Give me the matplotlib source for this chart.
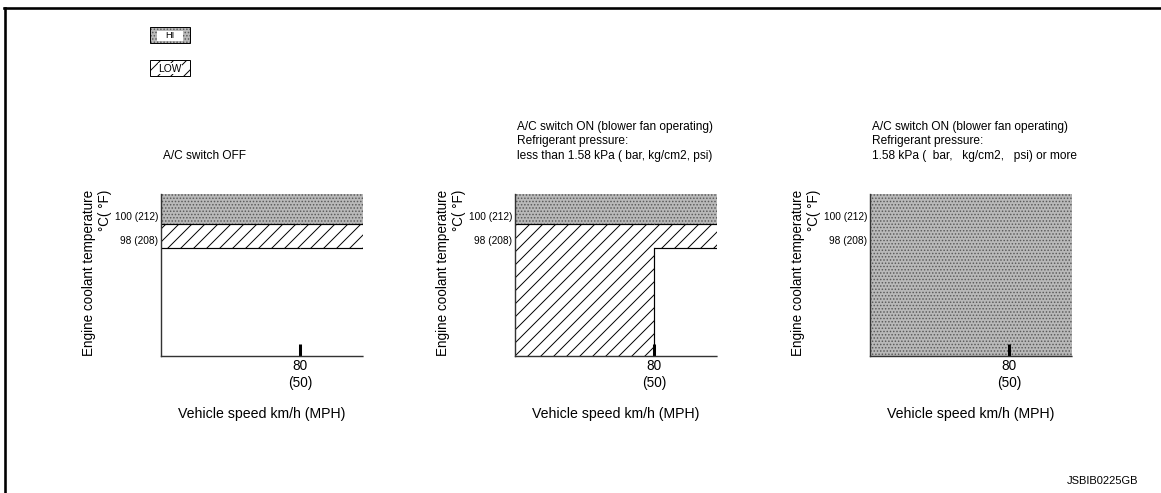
import matplotlib
matplotlib.use("Agg")
import matplotlib.pyplot as plt
from matplotlib.patches import Rectangle
from matplotlib.lines import Line2D
from matplotlib.transforms import offset_copy

plt.rcParams["font.family"] = ["Liberation Sans", "DejaVu Sans"]
plt.rcParams["hatch.linewidth"] = 0.9

# ---------------- data ----------------
speed_kmh = [80]
speed_mph = [50]
temp_c = [100, 98]
temp_f = [212, 208]

panel_titles = [
    "A/C switch OFF",
    "A/C switch ON (blower fan operating)\nRefrigerant pressure:\nless than 1.58 kPa ( bar, kg/cm2, psi)",
    "A/C switch ON (blower fan operating)\nRefrigerant pressure:\n1.58 kPa (  bar,   kg/cm2,   psi) or more",
]

# Lower edge (°C) of each fan-speed zone, below / above 80 km/h.
# None means the zone reaches down to the bottom of the scale.
hi_floor_below = [100, 100, None]
hi_floor_above = [100, 100, None]
low_floor_below = [98, None, None]
low_floor_above = [98, 98, None]

legend_labels = ["HI", "LOW"]
xlabel = "Vehicle speed km/h (MPH)"
ylabel = "Engine coolant temperature\n°C( °F)"
doc_code = "JSBIB0225GB"

# ---------------- layout / style ----------------
DPI = 78
W, H = 1161, 493
X_MAX = 116
Y_MIN, Y_MAX = 89, 102.5
HI_FACE = "#b9b9b9"
HI_DOT = "#5a5a5a"

fig = plt.figure(figsize=(W / DPI, H / DPI), dpi=DPI)
fig.patch.set_facecolor("white")

# page frame (top and left edges)
fig.add_artist(Line2D([4 / W, 1.0], [1 - 8 / H, 1 - 8 / H], color="black", lw=2.4,
                      transform=fig.transFigure))
fig.add_artist(Line2D([5 / W, 5 / W], [0, 1 - 8 / H], color="black", lw=2.4,
                      transform=fig.transFigure))

panel_left_px = [161, 515, 870]
ax_w_px, ax_top_px, ax_bot_px = 202, 194, 356
ax_h_px = ax_bot_px - ax_top_px


def zone(ax, xs, lo, hi, **kw):
    if hi > lo:
        ax.fill_between(xs, [lo, lo], [hi, hi], linewidth=0, **kw)


for i, left in enumerate(panel_left_px):
    ax = fig.add_axes([left / W, 1 - ax_bot_px / H, ax_w_px / W, ax_h_px / H])
    ax.set_xlim(0, X_MAX)
    ax.set_ylim(Y_MIN, Y_MAX)
    ax.set_facecolor("none")

    segs = [((0, speed_kmh[0]), hi_floor_below[i], low_floor_below[i]),
            ((speed_kmh[0], X_MAX), hi_floor_above[i], low_floor_above[i])]
    for xs, hf, lf in segs:
        hfv = Y_MIN if hf is None else hf
        lfv = Y_MIN if lf is None else lf
        zone(ax, xs, hfv, Y_MAX, facecolor=HI_FACE, edgecolor=HI_DOT,
             hatch="....", zorder=1)
        zone(ax, xs, lfv, hfv, facecolor="white", edgecolor="black",
             hatch="//", zorder=1)
        for fl in (hf, lf):
            if fl is not None:
                ax.plot(xs, [fl, fl], color="black", lw=1.1, zorder=3,
                        solid_capstyle="butt")

    # step edge where the zones change at 80 km/h
    for a, b in ((hi_floor_below[i], hi_floor_above[i]),
                 (low_floor_below[i], low_floor_above[i])):
        av = Y_MIN if a is None else a
        bv = Y_MIN if b is None else b
        if av != bv:
            ax.plot([speed_kmh[0]] * 2, [min(av, bv), max(av, bv)],
                    color="black", lw=1.1, zorder=3)

    for side in ("top", "right"):
        ax.spines[side].set_visible(False)
    for side in ("left", "bottom"):
        ax.spines[side].set_linestyle((0, (1, 1)))
        ax.spines[side].set_linewidth(1.3)
        ax.spines[side].set_color("#333333")
        ax.spines[side].set_zorder(4)

    ax.set_xticks(speed_kmh)
    ax.set_xticklabels([f"{k}\n({m})" for k, m in zip(speed_kmh, speed_mph)],
                       fontsize=12.5, linespacing=1.25)
    ax.tick_params(axis="x", direction="in", length=11, width=2.8,
                   color="black", pad=3, zorder=5)
    ax.set_yticks([])

    ylab_tr = offset_copy(ax.get_yaxis_transform(), fig=fig, x=-3, y=7,
                          units="dots")
    for c, f in zip(temp_c, temp_f):
        ax.text(0, c, f"{c} ({f})", transform=ylab_tr, ha="right",
                va="center", fontsize=9.4)

    ax.text(-64 / ax_w_px, 1 + 4 / ax_h_px, ylabel,
            transform=ax.transAxes, rotation=90, ha="center", va="top",
            multialignment="right", fontsize=12.5, linespacing=1.2)

    ax.text(0.5, -58 / ax_h_px, xlabel, transform=ax.transAxes,
            ha="center", va="center", fontsize=13)

    ax.text(2 / ax_w_px, 1 + 32 / ax_h_px, panel_titles[i],
            transform=ax.transAxes, ha="left", va="bottom", fontsize=11,
            linespacing=1.3)

# legend swatches (drawn in pixel units of a small overlay axes)
lax = fig.add_axes([140 / W, 1 - 90 / H, 60 / W, 70 / H])
lax.set_xlim(140, 200)
lax.set_ylim(90, 20)
lax.axis("off")
lax.add_patch(Rectangle((150, 27), 40, 16, facecolor=HI_FACE, edgecolor=HI_DOT,
                        hatch="....", lw=0))
lax.add_patch(Rectangle((157, 30.5), 26, 10, facecolor="white", lw=0))
lax.add_patch(Rectangle((150, 27), 40, 16, facecolor="none", edgecolor="black",
                        lw=0.9))
lax.text(170, 35.5, legend_labels[0], ha="center", va="center", fontsize=8.5)
lax.add_patch(Rectangle((150, 60), 40, 16, facecolor="white", edgecolor="black",
                        hatch="//", lw=0))
lax.add_patch(Rectangle((150, 60), 40, 16, facecolor="none", edgecolor="black",
                        lw=0.9))
lax.text(170, 68.5, legend_labels[1], ha="center", va="center", fontsize=9.5,
         bbox=dict(boxstyle="square,pad=0.05", facecolor="white",
                   edgecolor="none"))

fig.text(1138 / W, 1 - 481 / H, doc_code, ha="right", va="center", fontsize=10.3)

fig.savefig("out.png", dpi=DPI)
